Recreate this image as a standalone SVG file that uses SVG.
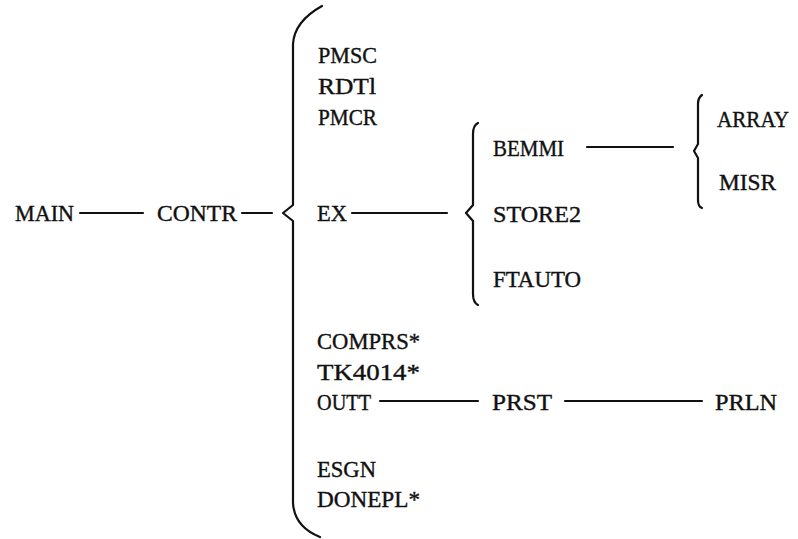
<svg xmlns="http://www.w3.org/2000/svg" width="798" height="539" viewBox="0 0 798 539">
<style>
text{font-family:"Liberation Serif","Times New Roman",serif;font-size:24px;fill:#111;stroke:#111;stroke-width:0.4;}
.c{stroke:#111;stroke-width:2.2;fill:none;stroke-linecap:round;stroke-linejoin:round;}
</style>
<rect width="798" height="539" fill="#fff"/>
<g id="connectors">
<path class="c" d="M80,213 H143"/>
<path class="c" d="M242,213 H272"/>
<path class="c" d="M352,213 H447"/>
<path class="c" d="M587,147 H673"/>
<path class="c" d="M380,401 H478"/>
<path class="c" d="M565,401 H702"/>
<path id="brace-main" class="c" d="M322,6 C304,16 294,28 293,44 V205 L283,213 L293,221 V503 C294,520 305,531 320,537"/>
<path id="brace-ex" class="c" d="M478,123 C474,125 473,128 473,134 V205 L466,213 L473,221 V294 C473,300 474,303 478,305"/>
<path id="brace-bemmi" class="c" d="M702,95 C699,97 698,99 698,104 V144 L694,151 L698,158 V200 C698,205 699,207 702,208"/>
</g>
<g id="MAIN"><text x="15" y="221" textLength="59" lengthAdjust="spacingAndGlyphs">MAIN</text></g>
<g id="CONTR"><text x="157" y="221" textLength="80" lengthAdjust="spacingAndGlyphs">CONTR</text></g>
<g id="PMSC"><text x="318" y="63" textLength="59" lengthAdjust="spacingAndGlyphs">PMSC</text></g>
<g id="RDT1"><text x="318" y="94" textLength="58" lengthAdjust="spacingAndGlyphs">RDTl</text></g>
<g id="PMCR"><text x="318" y="125" textLength="59" lengthAdjust="spacingAndGlyphs">PMCR</text></g>
<g id="EX"><text x="317" y="221" textLength="30" lengthAdjust="spacingAndGlyphs">EX</text></g>
<g id="BEMMI"><text x="493" y="156" textLength="71" lengthAdjust="spacingAndGlyphs">BEMMI</text></g>
<g id="STORE2"><text x="493" y="222" textLength="88" lengthAdjust="spacingAndGlyphs">STORE2</text></g>
<g id="FTAUTO"><text x="493" y="287" textLength="88" lengthAdjust="spacingAndGlyphs">FTAUTO</text></g>
<g id="ARRAY"><text x="717" y="127" textLength="72" lengthAdjust="spacingAndGlyphs">ARRAY</text></g>
<g id="MISR"><text x="719" y="190" textLength="57" lengthAdjust="spacingAndGlyphs">MISR</text></g>
<g id="COMPRS"><text x="317" y="349" textLength="103" lengthAdjust="spacingAndGlyphs">COMPRS*</text></g>
<g id="TK4014"><text x="317" y="380" textLength="103" lengthAdjust="spacingAndGlyphs">TK4014*</text></g>
<g id="OUTT"><text x="317" y="410" textLength="54" lengthAdjust="spacingAndGlyphs">OUTT</text></g>
<g id="PRST"><text x="492" y="410" textLength="60" lengthAdjust="spacingAndGlyphs">PRST</text></g>
<g id="PRLN"><text x="715" y="410" textLength="62" lengthAdjust="spacingAndGlyphs">PRLN</text></g>
<g id="ESGN"><text x="317" y="477" textLength="59" lengthAdjust="spacingAndGlyphs">ESGN</text></g>
<g id="DONEPL"><text x="317" y="507" textLength="103" lengthAdjust="spacingAndGlyphs">DONEPL*</text></g>
</svg>
